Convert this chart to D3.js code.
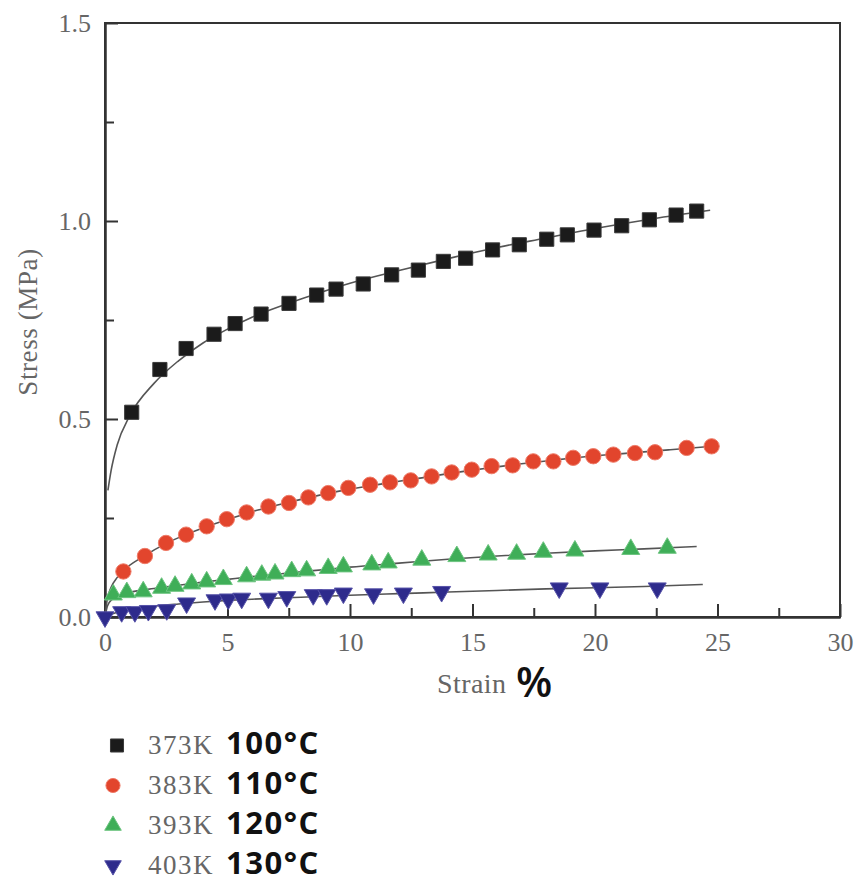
<!DOCTYPE html>
<html>
<head>
<meta charset="utf-8">
<script src="https://cdn.jsdelivr.net/npm/d3@7"></script>
<style>
  body { margin: 0; background: #fff; }
</style>
</head>
<body>
<script>
// Stress-strain curves at four temperatures (markers = measured, lines = fit)

const width = 859;
const height = 883;

// measured points [strain %, stress MPa]
const data373 = [
  [1.09, 0.517], [2.24, 0.625], [3.31, 0.678], [4.45, 0.714], [5.31, 0.741],
  [6.37, 0.765], [7.51, 0.792], [8.64, 0.813], [9.43, 0.828], [10.54, 0.841],
  [11.7, 0.864], [12.79, 0.876], [13.81, 0.898], [14.72, 0.906], [15.82, 0.927],
  [16.91, 0.940], [18.03, 0.954], [18.87, 0.965], [19.96, 0.977], [21.09, 0.988],
  [22.22, 1.003], [23.31, 1.015], [24.15, 1.025]
];
const data383 = [
  [0.75, 0.115], [1.63, 0.154], [2.49, 0.187], [3.31, 0.208], [4.15, 0.229],
  [4.97, 0.247], [5.78, 0.264], [6.67, 0.279], [7.51, 0.288], [8.30, 0.302],
  [9.11, 0.313], [9.93, 0.326], [10.82, 0.334], [11.63, 0.340], [12.48, 0.345],
  [13.33, 0.355], [14.15, 0.365], [14.97, 0.372], [15.78, 0.381], [16.64, 0.383],
  [17.48, 0.393], [18.3, 0.393], [19.11, 0.402], [19.93, 0.406], [20.75, 0.410],
  [21.63, 0.414], [22.45, 0.416], [23.74, 0.427], [24.76, 0.431]
];
const data393 = [
  [0.34, 0.056], [0.89, 0.062], [1.56, 0.064], [2.31, 0.073], [2.86, 0.078],
  [3.54, 0.084], [4.15, 0.089], [4.83, 0.095], [5.78, 0.102], [6.40, 0.106],
  [6.94, 0.109], [7.62, 0.115], [8.23, 0.117], [9.11, 0.123], [9.73, 0.127],
  [10.89, 0.132], [11.56, 0.137], [12.93, 0.144], [14.36, 0.153], [15.64, 0.157],
  [16.8, 0.159], [17.89, 0.164], [19.18, 0.167], [21.46, 0.171], [22.95, 0.174]
];
const data403 = [
  [0, 0], [0.68, 0.013], [1.22, 0.013], [1.77, 0.016], [2.52, 0.018],
  [3.33, 0.035], [4.49, 0.043], [5.03, 0.045], [5.58, 0.047], [6.67, 0.047],
  [7.42, 0.051], [8.5, 0.056], [9.05, 0.056], [9.73, 0.060], [10.96, 0.058],
  [12.18, 0.060], [13.74, 0.064], [18.54, 0.073], [20.2, 0.073], [22.54, 0.073]
];

// fitted curves
const fit373 = [
  [0.12, 0.32], [0.25, 0.37], [0.5, 0.435], [1, 0.507], [2, 0.59], [3, 0.647],
  [4, 0.692], [5, 0.727], [6, 0.757], [8, 0.803], [10, 0.843], [12, 0.875],
  [14, 0.905], [16, 0.933], [18, 0.957], [20, 0.981], [22, 1.002], [24.7, 1.027]
];
const fit383 = [
  [0, 0], [0.08, 0.04], [0.25, 0.075], [0.5, 0.1], [0.75, 0.117], [1.6, 0.154],
  [2.5, 0.186], [3.3, 0.208], [4.2, 0.229], [5, 0.246], [6, 0.266], [7, 0.282],
  [8, 0.297], [9, 0.311], [10, 0.323], [11, 0.333], [12, 0.343], [13, 0.352],
  [14, 0.362], [15, 0.371], [16, 0.379], [17, 0.387], [18, 0.394], [19, 0.401],
  [20, 0.407], [21, 0.412], [22, 0.417], [23, 0.422], [24.8, 0.431]
];
const fit393 = [
  [0, 0], [0.1, 0.028], [0.3, 0.045], [0.6, 0.055], [1, 0.062], [2, 0.072],
  [3, 0.08], [4, 0.088], [5, 0.095], [6, 0.102], [7, 0.108], [8, 0.114],
  [9, 0.12], [10, 0.126], [12, 0.136], [14, 0.146], [16, 0.154], [18, 0.161],
  [20, 0.167], [22, 0.172], [24.15, 0.178]
];
const fit403 = [
  [0, 0], [0.5, 0.012], [1, 0.018], [2, 0.027], [3, 0.033], [4, 0.038],
  [5, 0.042], [6, 0.045], [8, 0.05], [10, 0.055], [12, 0.059], [14, 0.063],
  [16, 0.067], [18, 0.071], [20, 0.074], [22, 0.077], [24.4, 0.082]
];

const xTicks = [0, 5, 10, 15, 20, 25, 30];
const xMinor = [2.5, 7.5, 12.5, 17.5, 22.5, 27.5];
const yTicks = [0, 0.5, 1.0, 1.5];
const yMinor = [0.25, 0.75, 1.25];

const kelvinLabels = ['373K', '383K', '393K', '403K'];
const celsiusLabels = ['100°C', '110°C', '120°C', '130°C'];

// series styling
const series = [
  { pts: data373, fit: fit373, shape: d3.symbolSquare, size: 200, fill: '#1b1b1b', stroke: '#3a3a3a', rot: 0 },
  { pts: data383, fit: fit383, shape: d3.symbolCircle, size: 185, fill: '#e2452d', stroke: '#ef7b68', rot: 0 },
  { pts: data393, fit: fit393, shape: d3.symbolTriangle, size: 140, fill: '#3fae58', stroke: '#6cc47f', rot: 0 },
  { pts: data403, fit: fit403, shape: d3.symbolTriangle, size: 140, fill: '#2e2b8c', stroke: '#5652a8', rot: 180 }
];

const plot = { left: 105, right: 840, top: 23, bottom: 617 };

const svg = d3.select('body')
  .append('svg')
  .attr('width', width)
  .attr('height', height);

const x = d3.scaleLinear().domain([0, 30]).range([plot.left, plot.right]);
const y = d3.scaleLinear().domain([0, 1.5]).range([plot.bottom, plot.top]);

const serif = '"Liberation Serif", "DejaVu Serif", serif';
const labelColor = '#666';
const axisColor = '#333';

// frame (top and right)
svg.append('rect')
  .attr('x', plot.left)
  .attr('y', plot.top)
  .attr('width', plot.right - plot.left)
  .attr('height', plot.bottom - plot.top)
  .attr('fill', 'none')
  .attr('stroke', axisColor)
  .attr('stroke-width', 2);

// x axis, inward ticks
svg.append('g')
  .attr('transform', `translate(0, ${plot.bottom})`)
  .call(d3.axisBottom(x).tickValues(xTicks).tickSizeInner(-13).tickSizeOuter(0).tickPadding(16));
svg.append('g')
  .attr('transform', `translate(0, ${plot.bottom})`)
  .call(d3.axisBottom(x).tickValues(xMinor).tickSizeInner(-9).tickSizeOuter(0).tickFormat(''));

// y axis, inward ticks
svg.append('g')
  .attr('transform', `translate(${plot.left}, 0)`)
  .call(d3.axisLeft(y).tickValues(yTicks).tickSizeInner(-13).tickSizeOuter(0).tickPadding(14).tickFormat(d3.format('.1f')));
svg.append('g')
  .attr('transform', `translate(${plot.left}, 0)`)
  .call(d3.axisLeft(y).tickValues(yMinor).tickSizeInner(-9).tickSizeOuter(0).tickFormat(''));

svg.selectAll('.domain').attr('stroke', axisColor).attr('stroke-width', 2);
svg.selectAll('.tick line').attr('stroke', axisColor).attr('stroke-width', 2);
svg.selectAll('.tick text')
  .attr('font-family', serif)
  .attr('font-size', 26)
  .attr('fill', labelColor);

// fit lines
const line = d3.line()
  .x(d => x(d[0]))
  .y(d => y(d[1]))
  .curve(d3.curveMonotoneX);

series.forEach(s => {
  svg.append('path')
    .datum(s.fit)
    .attr('d', line)
    .attr('fill', 'none')
    .attr('stroke', '#555')
    .attr('stroke-width', 1.6);
});

// markers
series.forEach(s => {
  const sym = d3.symbol().type(s.shape).size(s.size);
  svg.append('g')
    .selectAll('path')
    .data(s.pts)
    .enter()
    .append('path')
    .attr('d', sym)
    .attr('transform', d => `translate(${x(d[0])}, ${y(d[1])}) rotate(${s.rot})`)
    .attr('fill', s.fill)
    .attr('stroke', s.stroke)
    .attr('stroke-width', 1);
});

// axis titles
svg.append('text')
  .text('Stress (MPa)')
  .attr('transform', 'translate(37, 322) rotate(-90)')
  .attr('text-anchor', 'middle')
  .attr('font-family', serif)
  .attr('font-size', 27)
  .attr('letter-spacing', 0.6)
  .attr('fill', labelColor);

svg.append('text')
  .text('Strain')
  .attr('x', 437)
  .attr('y', 693)
  .attr('font-family', serif)
  .attr('font-size', 28)
  .attr('letter-spacing', 0.4)
  .attr('fill', labelColor);

svg.append('text')
  .text('%')
  .attr('x', 516)
  .attr('y', 697)
  .attr('font-family', '"Open Sans", sans-serif')
  .attr('font-size', 42)
  .attr('font-weight', 600)
  .attr('fill', '#111');

// legend
const legend = svg.append('g');

const rowY = i => 745.5 + i * 40;

series.forEach((s, i) => {
  const sym = d3.symbol().type(s.shape).size(s.size * 0.85);
  legend.append('path')
    .attr('d', sym)
    .attr('transform', `translate(${i === 0 ? 117 : 113}, ${rowY(i)}) rotate(${s.rot})`)
    .attr('fill', s.fill)
    .attr('stroke', s.stroke)
    .attr('stroke-width', 1);

  legend.append('text')
    .text(kelvinLabels[i])
    .attr('x', 148)
    .attr('y', rowY(i) + 8.5)
    .attr('font-family', serif)
    .attr('font-size', 27)
    .attr('letter-spacing', 1.5)
    .attr('fill', labelColor);

  legend.append('text')
    .text(celsiusLabels[i])
    .attr('x', 226)
    .attr('y', rowY(i) + 8.5)
    .attr('font-family', '"Open Sans", sans-serif')
    .attr('font-size', 31)
    .attr('font-weight', 700)
    .attr('letter-spacing', 1.5)
    .attr('fill', '#111');
});
</script>
</body>
</html>
